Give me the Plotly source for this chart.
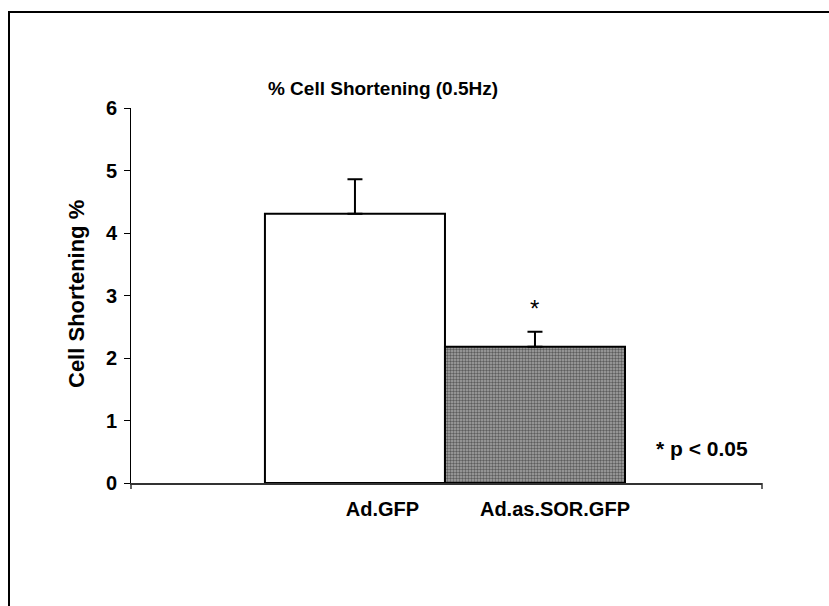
import plotly.graph_objects as go

# ---- data ----
categories = ["Ad.GFP", "Ad.as.SOR.GFP"]
values = [4.31, 2.18]
errors = [0.55, 0.24]
y_ticks = [0, 1, 2, 3, 4, 5, 6]
title_text = "% Cell Shortening (0.5Hz)"
y_title = "Cell Shortening %"
sig_note = "* p < 0.05"

# ---- layout geometry (pixels) ----
W, H = 829, 606
L, R, T, B = 131, 829 - 762, 108, 606 - 483
PW, PH = W - L - R, H - T - B
FONT = "Liberation Sans, Arial, sans-serif"

bar_x = [0, 1]
x_range = [-1.244, 2.261]
label_pos = [0.153, 1.111]

def px_x(p):
    return (p - L) / PW

def px_y(p):
    return (H - B - p) / PH

fig = go.Figure()
fig.add_trace(go.Bar(
    x=[bar_x[0]], y=[values[0]], width=1,
    marker=dict(color="white", line=dict(color="black", width=2)),
    error_y=dict(type="data", symmetric=False, array=[errors[0]], arrayminus=[0],
                 color="black", thickness=2, width=7.5),
    showlegend=False,
))
fig.add_trace(go.Bar(
    x=[bar_x[1]], y=[values[1]], width=1,
    marker=dict(color="#808080", line=dict(color="black", width=2),
                pattern=dict(shape=".", size=3, solidity=0.5,
                             fgcolor="#141414", bgcolor="#a6a6a6")),
    error_y=dict(type="data", symmetric=False, array=[errors[1]], arrayminus=[0],
                 color="black", thickness=2, width=7.5),
    showlegend=False,
))

fig.update_layout(
    width=W, height=H,
    margin=dict(l=L, r=R, t=T, b=B, autoexpand=False),
    paper_bgcolor="white", plot_bgcolor="white",
    font=dict(family=FONT, color="black"),
    barmode="overlay",
    title=dict(text="<b>" + title_text + "</b>", x=px_x(383), xref="paper",
               xanchor="center", y=1 - 88 / H, yanchor="middle",
               font=dict(size=19, family=FONT, color="black")),
    xaxis=dict(range=x_range, showgrid=False, zeroline=False,
               showline=True, linecolor="#333333", linewidth=1.5,
               tickvals=label_pos, ticktext=["<b>%s</b>" % c for c in categories],
               ticks="", tickfont=dict(size=20, family=FONT, color="black"),
               ticklabelstandoff=7),
    yaxis=dict(range=[0, 6], tickvals=y_ticks, showgrid=False, zeroline=False,
               showline=True, linecolor="black", linewidth=1,
               ticks="outside", ticklen=6, tickwidth=1, tickcolor="black",
               tickfont=dict(size=20, family=FONT, color="black"),
               ticktext=["<b>%d</b>" % v for v in y_ticks],
               ticklabelstandoff=3),
)

# y title
fig.add_annotation(text="<b>" + y_title + "</b>", xref="paper", yref="paper",
                   x=px_x(76), y=px_y(294), textangle=-90, showarrow=False,
                   xanchor="center", yanchor="middle",
                   font=dict(size=22, family=FONT, color="black"))
# significance star above bar 2
fig.add_annotation(text="*", x=bar_x[1], y=values[1] + errors[1], yshift=23,
                   showarrow=False, xanchor="center", yanchor="middle",
                   font=dict(size=24, family=FONT, color="black"))
# p-value note
fig.add_annotation(text="<b>" + sig_note + "</b>", xref="paper", yref="paper",
                   x=px_x(702), y=px_y(448), showarrow=False,
                   xanchor="center", yanchor="middle",
                   font=dict(size=21, family=FONT, color="black"))

# x-axis end ticks
for xp in (0, 1):
    fig.add_shape(type="line", xref="paper", yref="paper",
                  x0=xp, x1=xp, y0=0, y1=-6 / PH,
                  line=dict(color="#333333", width=1.5))

# outer frame (extends beyond the visible window to the right and bottom)
fig.add_shape(type="rect", xref="paper", yref="paper",
              x0=px_x(9), y0=px_y(12), x1=px_x(W + 20), y1=px_y(H + 20),
              line=dict(color="black", width=2), fillcolor="rgba(0,0,0,0)")

fig.write_html("out.html")
